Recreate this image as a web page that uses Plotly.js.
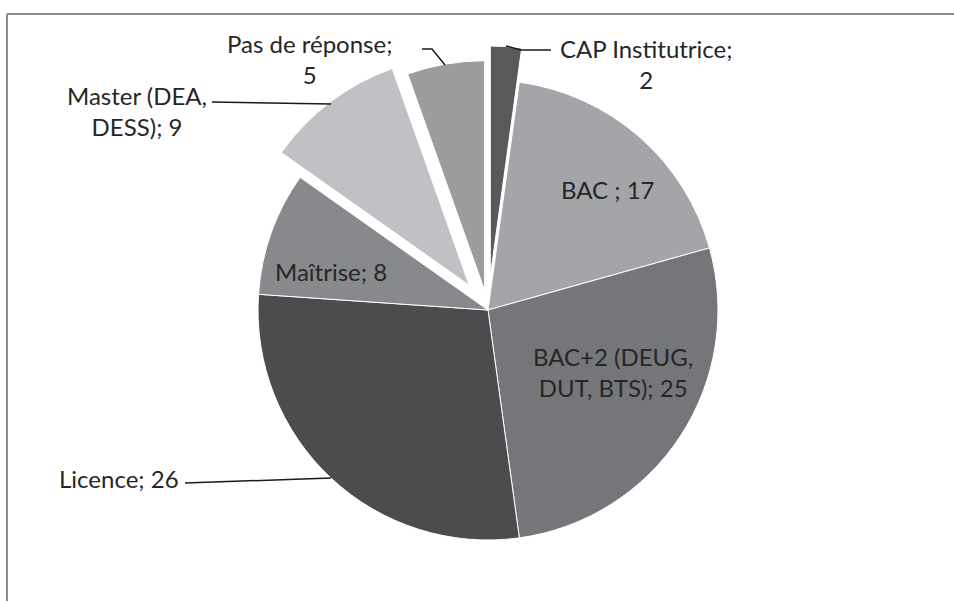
<!DOCTYPE html>
<html>
<head>
<meta charset="utf-8">
<script src="https://cdn.plot.ly/plotly-3.0.1.min.js"></script>
<style>html,body{margin:0;padding:0;background:#fff;}#chart{width:954px;height:601px;}</style>
</head>
<body>
<div id="chart"></div>
<script>
// ---- data ----
var categories = ['CAP Institutrice', 'BAC', 'BAC+2 (DEUG, DUT, BTS)', 'Licence', 'Maîtrise', 'Master (DEA, DESS)', 'Pas de réponse'];
var values = [2, 17, 25, 26, 8, 9, 5];
var separators = [';<br>', ' ; ', '; ', '; ', '; ', '; ', ';<br>'];
var sliceColors = ['#59595b', '#a4a5a8', '#75767a', '#4b4c4e', '#88898c', '#c0c1c4', '#9c9c9f'];
var pulls = [0.148, 0, 0, 0, 0, 0.135, 0.085];

// ---- layout geometry (pixels) ----
var W = 954, H = 601;
var cx = 488, cy = 310, R = 230;
var maxPull = Math.max.apply(null, pulls);
var half = R * (1 + maxPull);
var domX = [(cx - half) / W, (cx + half) / W];
var domY = [1 - (cy + half) / H, 1 - (cy - half) / H];

function px(x) { return x / W; }
function py(y) { return 1 - y / H; }

function labelText(i) {
  var t = categories[i] + separators[i] + values[i];
  if (i === 2) t = 'BAC+2 (DEUG,<br>DUT, BTS); ' + values[i];
  if (i === 5) t = 'Master (DEA,<br>DESS); ' + values[i];
  return t;
}

// label positions (pixel centres)
var labelPos = [[646, 64], [608, 190], [613, 372], [119, 478], [331, 271], [137, 111], [309, 59]];

var annotations = labelPos.map(function (p, i) {
  return {
    xref: 'paper', yref: 'paper', x: px(p[0]), y: py(p[1]),
    xanchor: 'center', yanchor: 'middle', align: 'center',
    text: labelText(i), showarrow: false,
    font: {family: 'Lato, "Open Sans", sans-serif', size: 24, color: '#262626'}
  };
});

function pathPx(pts) {
  return pts.map(function (p, k) { return (k ? 'L' : 'M') + ' ' + px(p[0]) + ' ' + py(p[1]); }).join(' ');
}

var leader = {color: '#1a1a1a', width: 1.5};
var shapes = [
  {type: 'path', xref: 'paper', yref: 'paper', path: pathPx([[506, 46], [521, 50], [551, 50]]), line: leader},
  {type: 'path', xref: 'paper', yref: 'paper', path: pathPx([[422, 49], [432, 49], [445, 65]]), line: leader},
  {type: 'path', xref: 'paper', yref: 'paper', path: pathPx([[212, 102], [331, 104]]), line: leader},
  {type: 'path', xref: 'paper', yref: 'paper', path: pathPx([[185, 483], [331, 478]]), line: leader},
  // chart frame
  {type: 'line', xref: 'paper', yref: 'paper', x0: px(7), x1: px(7), y0: py(14), y1: py(601), line: {color: '#8c8c8c', width: 2}},
  {type: 'line', xref: 'paper', yref: 'paper', x0: px(7), x1: px(954), y0: py(14), y1: py(14), line: {color: '#8c8c8c', width: 2}}
];

var trace = {
  type: 'pie',
  labels: categories,
  values: values,
  sort: false,
  direction: 'clockwise',
  rotation: 0,
  pull: pulls,
  textinfo: 'none',
  marker: {colors: sliceColors, line: {color: '#ffffff', width: 1}},
  domain: {x: domX, y: domY},
  showlegend: false
};

var layout = {
  width: W, height: H,
  margin: {l: 0, r: 0, t: 0, b: 0},
  paper_bgcolor: '#ffffff',
  showlegend: false,
  annotations: annotations,
  shapes: shapes
};

Plotly.newPlot('chart', [trace], layout, {displayModeBar: false, staticPlot: true});
</script>
</body>
</html>
